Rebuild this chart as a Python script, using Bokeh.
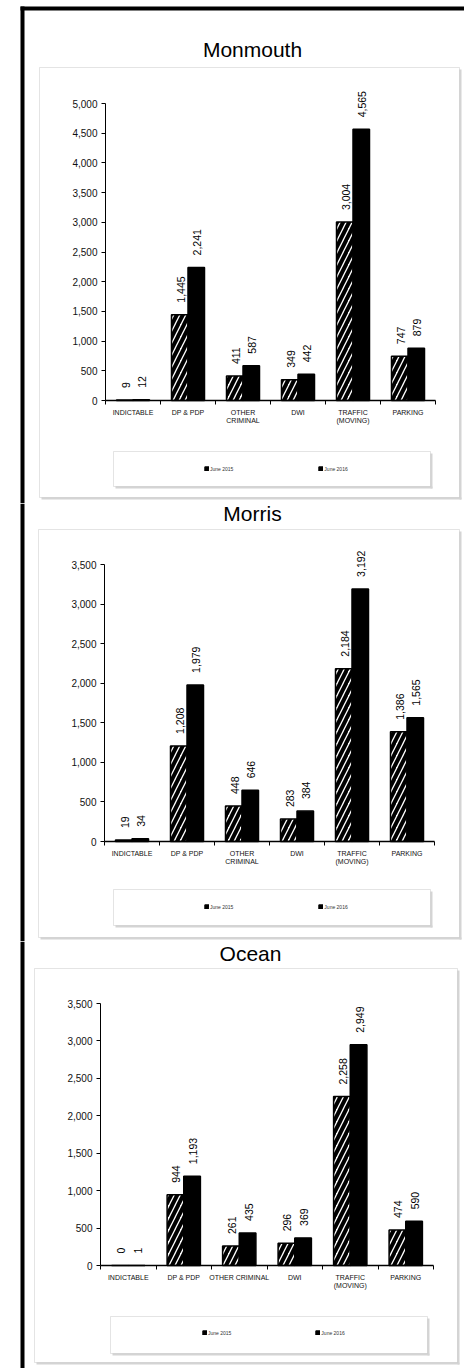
import math
from bokeh.plotting import figure
from bokeh.models import (Range1d, FixedTicker, NumeralTickFormatter, LinearAxis,
                          BoxAnnotation, Label, LabelSet, ColumnDataSource, Legend, LegendItem)
from bokeh.layouts import column
from bokeh.embed import file_html
from bokeh.resources import INLINE
from bokeh.core.properties import value

# ---------------- data ----------------
CATEGORIES = ["INDICTABLE", "DP & PDP", "OTHER\nCRIMINAL", "DWI", "TRAFFIC\n(MOVING)", "PARKING"]
CATEGORIES_OCEAN = ["INDICTABLE", "DP & PDP", "OTHER CRIMINAL", "DWI", "TRAFFIC\n(MOVING)", "PARKING"]
SERIES = ["June 2015", "June 2016"]

MONMOUTH_2015 = [9, 1445, 411, 349, 3004, 747]
MONMOUTH_2016 = [12, 2241, 587, 442, 4565, 879]
MORRIS_2015 = [19, 1208, 448, 283, 2184, 1386]
MORRIS_2016 = [34, 1979, 646, 384, 3192, 1565]
OCEAN_2015 = [0, 944, 261, 296, 2258, 474]
OCEAN_2016 = [1, 1193, 435, 369, 2949, 590]

Y_TICKS_5000 = [0, 500, 1000, 1500, 2000, 2500, 3000, 3500, 4000, 4500, 5000]
Y_TICKS_3500 = [0, 500, 1000, 1500, 2000, 2500, 3000, 3500]

W = 464
FONT = "Liberation Sans"
GRAY = "#a6a6a6"
SHADOW = "#d4d4d4"
TITLE_SHIFT = 8   # Label baseline correction


def make_panel(title, cats, v15, v16, yticks, H, frame, panel_box, title_pos,
               legend_box, marker, marker_gap, first=False):
    fl, ft, fr, fb = frame           # plot-area corners in canvas pixels
    n = len(cats)
    ymax = yticks[-1]
    sx = (fr - fl) / n               # pixels per category
    sy = (fb - ft) / ymax            # pixels per unit value

    def X(px):
        return (px - fl) / sx

    def Y(py):
        return (fb - py) / sy

    p = figure(width=W, height=H,
               x_range=Range1d(X(0), X(W)), y_range=Range1d(Y(H), Y(0)),
               min_border_left=0, min_border_right=0,
               min_border_top=0, min_border_bottom=0,
               x_axis_type=None, y_axis_type=None,
               output_backend="svg", toolbar_location=None)
    p.xgrid.visible = False
    p.ygrid.visible = False
    p.outline_line_color = None
    p.background_fill_color = "white"
    p.border_fill_color = "white"

    def fillbox(l, t, r, b, color):
        p.add_layout(BoxAnnotation(left=X(l), right=X(r), top=Y(t), bottom=Y(b),
                                   fill_color=color, fill_alpha=1, line_alpha=0,
                                   level="underlay"))

    def framebox(l, t, r, b):
        fillbox(r, t + 2, r + 2, b + 2, SHADOW)
        fillbox(l + 2, b, r + 2, b + 2, SHADOW)
        p.add_layout(BoxAnnotation(left=X(l), right=X(r), top=Y(t), bottom=Y(b),
                                   fill_alpha=0, line_color=GRAY, line_width=1,
                                   level="underlay"))

    # page frame (thick black) and panel boxes
    fillbox(20, 6 if first else 0, 24, H, "black")
    if first:
        fillbox(20, 6, W, 10, "black")
    framebox(*panel_box)
    framebox(*legend_box)

    p.add_layout(Label(x=X(title_pos[0]), y=Y(title_pos[1] - TITLE_SHIFT),
                       text=title, text_align="center", text_baseline="alphabetic",
                       text_font=FONT, text_font_size="21px", text_color="black"))

    # axes
    yaxis = LinearAxis(ticker=FixedTicker(ticks=yticks),
                       formatter=NumeralTickFormatter(format="0,0"),
                       fixed_location=0, bounds=(0, ymax))
    yaxis.major_tick_out = 4
    yaxis.major_tick_in = 0
    yaxis.minor_tick_out = 0
    yaxis.minor_tick_in = 0
    yaxis.major_label_standoff = 4
    yaxis.major_label_text_font = FONT
    yaxis.major_label_text_font_size = "10px"
    yaxis.major_label_text_color = "#111111"
    yaxis.axis_line_color = "black"
    yaxis.major_tick_line_color = "black"
    p.add_layout(yaxis, "left")

    centers = [i + 0.5 for i in range(n)]
    bounds = [i for i in range(n + 1)]
    xaxis = LinearAxis(ticker=FixedTicker(ticks=centers, minor_ticks=bounds),
                       fixed_location=0, bounds=(0, n))
    xaxis.major_label_overrides = {c: lab for c, lab in zip(centers, cats)}
    xaxis.major_tick_out = 0
    xaxis.major_tick_in = 0
    xaxis.minor_tick_out = 4
    xaxis.minor_tick_in = 0
    xaxis.minor_tick_line_color = "black"
    xaxis.major_label_standoff = 4
    xaxis.major_label_text_font = FONT
    xaxis.major_label_text_font_size = "7px"
    xaxis.major_label_text_color = "#111111"
    xaxis.axis_line_color = "black"
    xaxis.axis_line_width = 1.5
    p.add_layout(xaxis, "below")

    x15 = [c - 0.15 for c in centers]
    x16 = [c + 0.15 for c in centers]
    src15 = ColumnDataSource(dict(x=x15, top=v15, lab=[f"{v:,}" for v in v15]))
    src16 = ColumnDataSource(dict(x=x16, top=v16, lab=[f"{v:,}" for v in v16]))

    r15 = p.vbar(x="x", top="top", width=0.3, bottom=0, source=src15,
                 fill_color="white", hatch_pattern="/", hatch_color="black",
                 hatch_weight=4, hatch_scale=12, line_color="black", line_width=1.5)
    r16 = p.vbar(x="x", top="top", width=0.3, bottom=0, source=src16,
                 fill_color="black", line_color="black", line_width=1.5)

    for src in (src15, src16):
        p.add_layout(LabelSet(x="x", y="top", text="lab", source=src,
                              angle=math.pi / 2, text_align="left", text_baseline="middle",
                              y_offset=12, x_offset=1,
                              text_font=value(FONT), text_font_size="10.5px",
                              text_color="black"))

    mx, my = marker
    gw = 5
    legend = Legend(items=[LegendItem(label=SERIES[0], renderers=[r15]),
                           LegendItem(label=SERIES[1], renderers=[r16])],
                    orientation="horizontal",
                    location=(mx, H - (my + gw / 2)),
                    padding=0, margin=0, spacing=marker_gap - (gw + 1 + 23),
                    glyph_width=gw, glyph_height=gw, label_standoff=1,
                    label_width=23, label_height=5,
                    label_text_font=FONT, label_text_font_size="5px",
                    label_text_color="#333333", label_text_baseline="middle",
                    border_line_color=None, background_fill_alpha=0)
    p.add_layout(legend)
    return p


p1 = make_panel("Monmouth", CATEGORIES, MONMOUTH_2015, MONMOUTH_2016, Y_TICKS_5000,
                503, (105, 103, 435, 400), (39, 67, 459, 497), (252, 57),
                (113, 451, 430, 486), (204, 469), 114, first=True)
p2 = make_panel("Morris", CATEGORIES, MORRIS_2015, MORRIS_2016, Y_TICKS_3500,
                438, (104, 61, 434, 338), (38, 26, 459, 434), (252, 18),
                (113, 386, 430, 422), (204, 404), 114)
p3 = make_panel("Ocean", CATEGORIES_OCEAN, OCEAN_2015, OCEAN_2016, Y_TICKS_3500,
                427, (100, 62, 433, 324), (34, 27, 457, 421), (250, 20),
                (110, 375, 427, 412), (202, 392), 113)

layout = column(p1, p2, p3, spacing=0)
open("out.html", "w").write(file_html(layout, INLINE))
